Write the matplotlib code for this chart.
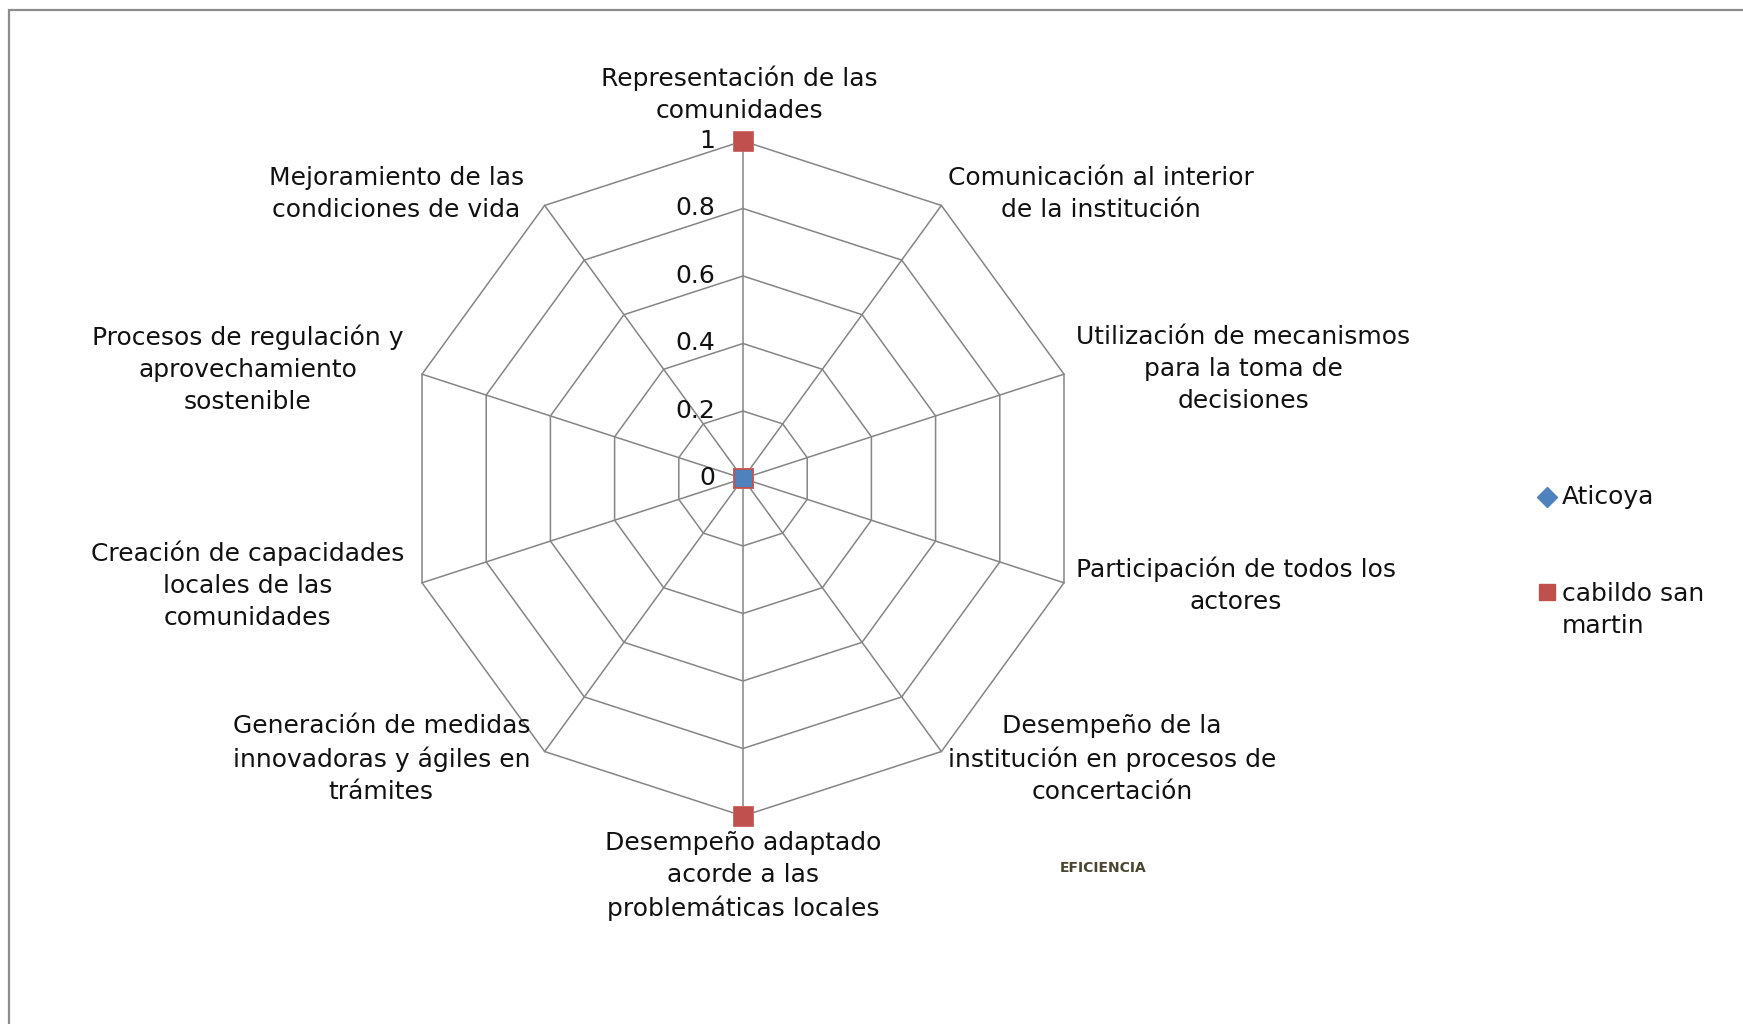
import numpy as np
import matplotlib
matplotlib.use('Agg')
import matplotlib.pyplot as plt
from matplotlib.lines import Line2D
from matplotlib.patches import Rectangle
from matplotlib.transforms import offset_copy

# ---------------------------------------------------------------- data
categories = [
    'Representación de las\ncomunidades',
    'Comunicación al interior\nde la institución',
    'Utilización de mecanismos\npara la toma de\ndecisiones',
    'Participación de todos los\nactores',
    'Desempeño de la\ninstitución en procesos de\nconcertación',
    'Desempeño adaptado\nacorde a las\nproblemáticas locales',
    'Generación de medidas\ninnovadoras y ágiles en\ntrámites',
    'Creación de capacidades\nlocales de las\ncomunidades',
    'Procesos de regulación y\naprovechamiento\nsostenible',
    'Mejoramiento de las\ncondiciones de vida',
]
aticoya = [0, 0, 0, 0, 0, 0, 0, 0, 0, 0]
cabildo = [1, 0, 0, 0, 0, 1, 0, 0, 0, 0]
rings = [0, 0.2, 0.4, 0.6, 0.8, 1.0]
ring_labels = ['0', '0.2', '0.4', '0.6', '0.8', '1']
series_names = ['Aticoya', 'cabildo san\nmartin']

BLUE = '#4F81BD'
RED = '#C0504D'
GRID = '#858585'
TXT = '#111111'
FS = 18
LS = 1.42

plt.rcParams['font.family'] = 'DejaVu Sans'

fig = plt.figure(figsize=(17.43, 10.24), dpi=100)
fig.patch.set_facecolor('white')

# outer frame (only left/top edges fall inside the picture)
fig.add_artist(Rectangle((9 / 1743, -0.05), 1.2, (1024 - 10) / 1024 + 0.05,
                         transform=fig.transFigure, fill=False,
                         edgecolor='#8c8c8c', linewidth=1.6))

ax = fig.add_axes([0.23265, 0.20313, 0.38726, 0.65918])
ax.set_xlim(-1, 1)
ax.set_ylim(-1, 1)
ax.axis('off')

n = len(categories)
theta = np.arange(n) * 2 * np.pi / n      # clockwise from top
sx, sy = np.sin(theta), np.cos(theta)

# ring polygons
for r in rings[1:]:
    ax.plot(np.append(sx, sx[0]) * r, np.append(sy, sy[0]) * r,
            color=GRID, linewidth=1.1, zorder=1)
# spokes
for i in range(n):
    ax.plot([0, sx[i]], [0, sy[i]], color=GRID, linewidth=1.1, zorder=1)

# ring value labels along the top spoke
for r, lab in zip(rings, ring_labels):
    ax.text(-0.083, r, lab, ha='right', va='center', fontsize=FS, color=TXT)

# category labels
lab_pos = [
    (-0.01, 1.139, 'center'),
    (0.607, 0.843, 'left'),
    (0.987, 0.324, 'left'),
    (0.987, -0.316, 'left'),
    (0.607, -0.831, 'left'),
    (0.0, -1.178, 'center'),
    (-0.631, -0.831, 'right'),
    (-1.004, -0.316, 'right'),
    (-1.006, 0.324, 'right'),
    (-0.650, 0.843, 'right'),
]
for text, (x, y, ha) in zip(categories, lab_pos):
    ax.text(x, y, text, ha=ha, va='center', multialignment='center',
            fontsize=FS, linespacing=LS, color=TXT, clip_on=False)

# series (markers only)
cab = np.array(cabildo)
ati = np.array(aticoya)
ax.plot(sx * cab, sy * cab, linestyle='none', marker='s', markersize=15,
        markerfacecolor=RED, markeredgecolor='#c96461', markeredgewidth=0.6,
        zorder=3, clip_on=False)
ax.plot(sx * ati, sy * ati, linestyle='none', marker='s', markersize=11.5,
        markerfacecolor=BLUE, markeredgecolor=BLUE, markeredgewidth=0.5,
        zorder=4, clip_on=False)

# legend (drawn by hand to keep Excel-like placement)
fig.add_artist(Line2D([1547 / 1743], [1 - 497 / 1024], marker='D', markersize=10,
                      color=BLUE, linestyle='none', transform=fig.transFigure))
fig.text(1562 / 1743, 1 - 497 / 1024, series_names[0], ha='left', va='center',
         fontsize=FS, color=TXT)
fig.add_artist(Line2D([1547 / 1743], [1 - 592 / 1024], marker='s', markersize=12,
                      color=RED, linestyle='none', transform=fig.transFigure))
fig.text(1562 / 1743, 1 - 592 / 1024, series_names[1], ha='left', va='top',
         fontsize=FS, linespacing=LS, color=TXT,
         transform=offset_copy(fig.transFigure, fig=fig, y=10, units='dots'))

fig.text(1103 / 1743, 1 - 868 / 1024, 'EFICIENCIA', ha='center', va='center',
         fontsize=10, fontweight='bold', color='#4a4632')

fig.savefig('out.png', dpi=100, facecolor='white')
